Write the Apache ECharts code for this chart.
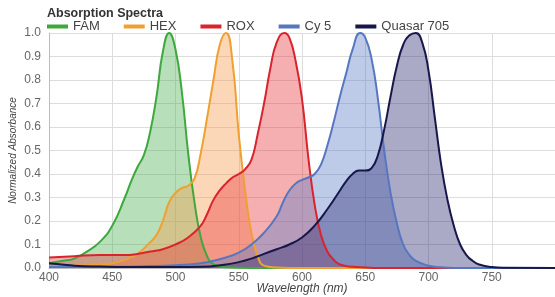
<!DOCTYPE html>
<html>
<head>
<meta charset="UTF-8">
<title>Absorption Spectra</title>
<script src="https://cdn.jsdelivr.net/npm/echarts@6/dist/echarts.min.js"></script>
<style>
  html, body { margin: 0; padding: 0; background: #fff; }
  #main { width: 555px; height: 297px; }
</style>
</head>
<body>
<div id="main"></div>
<script>
// dye names (legend order)
var dyes = ['FAM', 'HEX', 'ROX', 'Cy 5', 'Quasar 705'];

// wavelength (nm) / normalized absorbance
var famNm  = [400, 410, 420, 430, 440, 450, 460, 465, 470, 475, 480, 485, 490, 495, 500, 505, 510, 515, 520, 525, 530, 540, 560, 800];
var famAbs = [0.02, 0.03, 0.04, 0.07, 0.11, 0.18, 0.30, 0.37, 0.43, 0.48, 0.58, 0.73, 0.92, 1.0, 0.93, 0.75, 0.49, 0.28, 0.13, 0.05, 0.015, 0.003, 0, 0];

var hexNm  = [400, 420, 440, 450, 460, 470, 480, 485, 490, 495, 500, 505, 510, 515, 520, 525, 530, 535, 540, 545, 550, 555, 560, 565, 570, 580, 590, 800];
var hexAbs = [0.01, 0.01, 0.015, 0.02, 0.035, 0.06, 0.11, 0.14, 0.20, 0.28, 0.32, 0.34, 0.35, 0.38, 0.49, 0.64, 0.80, 0.95, 1.0, 0.88, 0.57, 0.33, 0.15, 0.05, 0.01, 0.002, 0, 0];

var roxNm  = [400, 420, 440, 460, 470, 480, 490, 500, 510, 520, 525, 530, 535, 540, 545, 550, 555, 560, 565, 570, 575, 580, 586, 590, 595, 600, 605, 610, 615, 620, 625, 630, 640, 650, 660, 800];
var roxAbs = [0.045, 0.05, 0.055, 0.055, 0.06, 0.07, 0.08, 0.10, 0.13, 0.18, 0.23, 0.29, 0.33, 0.36, 0.385, 0.40, 0.42, 0.46, 0.57, 0.70, 0.85, 0.96, 1.0, 0.98, 0.88, 0.72, 0.47, 0.27, 0.14, 0.07, 0.035, 0.015, 0.005, 0.002, 0, 0];

var cy5Nm  = [400, 450, 480, 500, 520, 540, 550, 560, 570, 580, 585, 590, 595, 600, 605, 610, 615, 620, 625, 630, 635, 640, 646, 650, 655, 660, 665, 670, 675, 680, 685, 690, 700, 710, 720, 800];
var cy5Abs = [0.005, 0.005, 0.008, 0.012, 0.02, 0.045, 0.065, 0.10, 0.15, 0.22, 0.28, 0.33, 0.36, 0.375, 0.385, 0.40, 0.44, 0.52, 0.62, 0.73, 0.83, 0.93, 1.0, 0.98, 0.89, 0.72, 0.50, 0.32, 0.19, 0.10, 0.055, 0.03, 0.01, 0.003, 0, 0];

var quasarNm  = [400, 410, 420, 440, 460, 480, 500, 520, 540, 550, 560, 570, 580, 590, 600, 610, 620, 630, 635, 640, 645, 650, 655, 660, 665, 670, 675, 680, 685, 690, 695, 700, 705, 710, 715, 720, 725, 730, 735, 740, 750, 760, 800];
var quasarAbs = [0.02, 0.015, 0.01, 0.006, 0.004, 0.004, 0.004, 0.005, 0.015, 0.025, 0.04, 0.06, 0.08, 0.10, 0.13, 0.18, 0.25, 0.33, 0.37, 0.40, 0.415, 0.415, 0.425, 0.48, 0.59, 0.73, 0.86, 0.95, 0.99, 1.0, 0.96, 0.84, 0.64, 0.44, 0.29, 0.18, 0.10, 0.055, 0.03, 0.015, 0.004, 0.001, 0];

var lineColors = ['#3ea83e', '#f0a030', '#d9232d', '#5677bf', '#17174a'];
var areaColors = ['#4caf50', '#f79b4a', '#e8383d', '#5a7dc8', '#2a2a70'];

function pairs(xs, ys) {
  var out = [];
  for (var i = 0; i < xs.length; i++) out.push([xs[i], ys[i]]);
  return out;
}

var allData = [
  pairs(famNm, famAbs),
  pairs(hexNm, hexAbs),
  pairs(roxNm, roxAbs),
  pairs(cy5Nm, cy5Abs),
  pairs(quasarNm, quasarAbs)
];

var series = [];
for (var i = 0; i < dyes.length; i++) {
  series.push({
    name: dyes[i],
    type: 'line',
    data: allData[i],
    smooth: 0.5,
    symbol: 'none',
    lineStyle: { color: lineColors[i], width: 2 },
    itemStyle: { color: lineColors[i] },
    areaStyle: { color: areaColors[i], opacity: 0.4 }
  });
}

var myChart = echarts.init(document.getElementById('main'));
myChart.setOption({
  backgroundColor: '#fff',
  animation: false,
  textStyle: { fontFamily: 'Liberation Sans, Arial, sans-serif' },
  title: {
    text: 'Absorption Spectra',
    left: 42,
    top: 2,
    textStyle: { fontSize: 12.5, fontWeight: 'bold', color: '#333' }
  },
  legend: {
    left: 47,
    top: 20,
    padding: 0,
    itemGap: 24,
    itemWidth: 21,
    itemHeight: 4,
    icon: 'rect',
    textStyle: { fontSize: 13, color: '#444' },
    data: dyes
  },
  grid: { left: 49, right: 0, top: 33, bottom: 29, outerBoundsMode: 'none' },
  xAxis: {
    type: 'value',
    min: 400,
    max: 800,
    interval: 50,
    name: 'Wavelength (nm)',
    nameLocation: 'middle',
    nameGap: 15,
    nameMoveOverlap: false,
    nameTextStyle: { fontStyle: 'italic', fontSize: 12, color: '#444' },
    axisLine: { lineStyle: { color: '#bbb' } },
    axisTick: { show: false },
    axisLabel: { fontSize: 12, color: '#666', margin: 4, showMaxLabel: false },
    splitLine: { lineStyle: { color: '#ddd' } }
  },
  yAxis: {
    type: 'value',
    min: 0,
    max: 1,
    interval: 0.1,
    name: 'Normalized Absorbance',
    nameLocation: 'middle',
    nameGap: 31,
    nameMoveOverlap: false,
    nameTextStyle: { fontStyle: 'italic', fontSize: 10, color: '#444' },
    axisLine: { show: true, lineStyle: { color: '#bbb' } },
    axisTick: { show: false },
    axisLabel: {
      fontSize: 12, color: '#666', margin: 8,
      formatter: function (v) { return v.toFixed(1); }
    },
    splitLine: { lineStyle: { color: '#ddd' } }
  },
  series: series
});
</script>
</body>
</html>
